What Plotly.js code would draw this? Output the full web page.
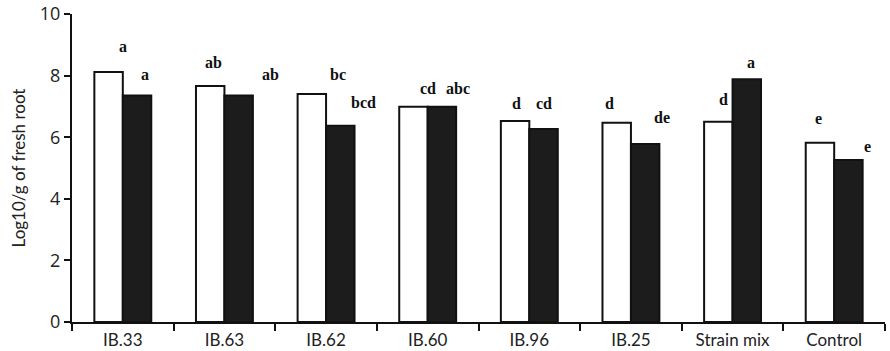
<!DOCTYPE html>
<html>
<head>
<meta charset="utf-8">
<script src="https://cdn.plot.ly/plotly-3.0.1.min.js"></script>
<style>html,body{margin:0;padding:0;background:#fff;}#chart{width:890px;height:351px;}</style>
</head>
<body>
<div id="chart"></div>
<script>
// Data
var categories = ["IB.33", "IB.63", "IB.62", "IB.60", "IB.96", "IB.25", "Strain mix", "Control"];
var whiteValues = [8.12, 7.66, 7.40, 6.99, 6.53, 6.47, 6.50, 5.82];
var darkValues  = [7.35, 7.35, 6.37, 6.99, 6.27, 5.78, 7.88, 5.26];
var whiteLetters = ["a", "ab", "bc", "cd", "d", "d", "d", "e"];
var darkLetters  = ["a", "ab", "bcd", "abc", "cd", "de", "a", "e"];

// Label placement (pixel offsets from category centre / bar top)
var whiteLabelDx = [0, -11, 12, 0, -13, -21, -9, -16];
var whiteLabelDy = [25, 24, 20, 18, 17, 19, 22, 24];
var darkLabelDx  = [22, 46, 37, 30, 15, 31, 18, 33];
var darkLabelDy  = [21, 21, 23, 18, 25, 26, 17, 13];

var traces = [
  {type: "bar", x: categories, y: whiteValues, name: "white",
   marker: {color: "#ffffff", line: {color: "#111", width: 2}}},
  {type: "bar", x: categories, y: darkValues, name: "dark",
   marker: {color: "#1c1c1c", line: {color: "#111", width: 2}}}
];

var annotations = [];
var labelFont = {family: "Liberation Serif, serif", size: 16, color: "#111"};
for (var i = 0; i < categories.length; i++) {
  annotations.push({x: categories[i], y: whiteValues[i], xref: "x", yref: "y",
    text: "<b>" + whiteLetters[i] + "</b>", showarrow: false,
    xshift: whiteLabelDx[i], yshift: whiteLabelDy[i], font: labelFont});
  annotations.push({x: categories[i], y: darkValues[i], xref: "x", yref: "y",
    text: "<b>" + darkLetters[i] + "</b>", showarrow: false,
    xshift: darkLabelDx[i], yshift: darkLabelDy[i], font: labelFont});
}

var layout = {
  width: 890, height: 351,
  margin: {l: 72, r: 5, t: 14, b: 29},
  paper_bgcolor: "#fff", plot_bgcolor: "#fff",
  showlegend: false,
  barmode: "group", bargap: 0.44, bargroupgap: 0,
  font: {family: "Lato, sans-serif", color: "#111"},
  xaxis: {
    type: "category", range: [-0.5, 7.5],
    showline: true, linecolor: "#111", linewidth: 2,
    ticks: "outside", tickson: "boundaries", ticklen: 7, tickwidth: 2, tickcolor: "#111",
    tickfont: {size: 17, family: "Lato, sans-serif", color: "#222"},
    ticklabelstandoff: 2,
    showgrid: false, zeroline: false
  },
  yaxis: {
    range: [0, 10], tickvals: [0, 2, 4, 6, 8, 10],
    showline: true, linecolor: "#111", linewidth: 2,
    ticks: "outside", ticklen: 6, tickwidth: 2, tickcolor: "#111",
    tickfont: {size: 18, family: "Open Sans, sans-serif", color: "#222"},
    showgrid: false, zeroline: false,
    title: {text: "Log10/g of fresh root", font: {size: 17, family: "Lato, sans-serif", color: "#222"}, standoff: 10}
  },
  annotations: annotations
};

Plotly.newPlot("chart", traces, layout, {displayModeBar: false, staticPlot: true});
</script>
</body>
</html>
